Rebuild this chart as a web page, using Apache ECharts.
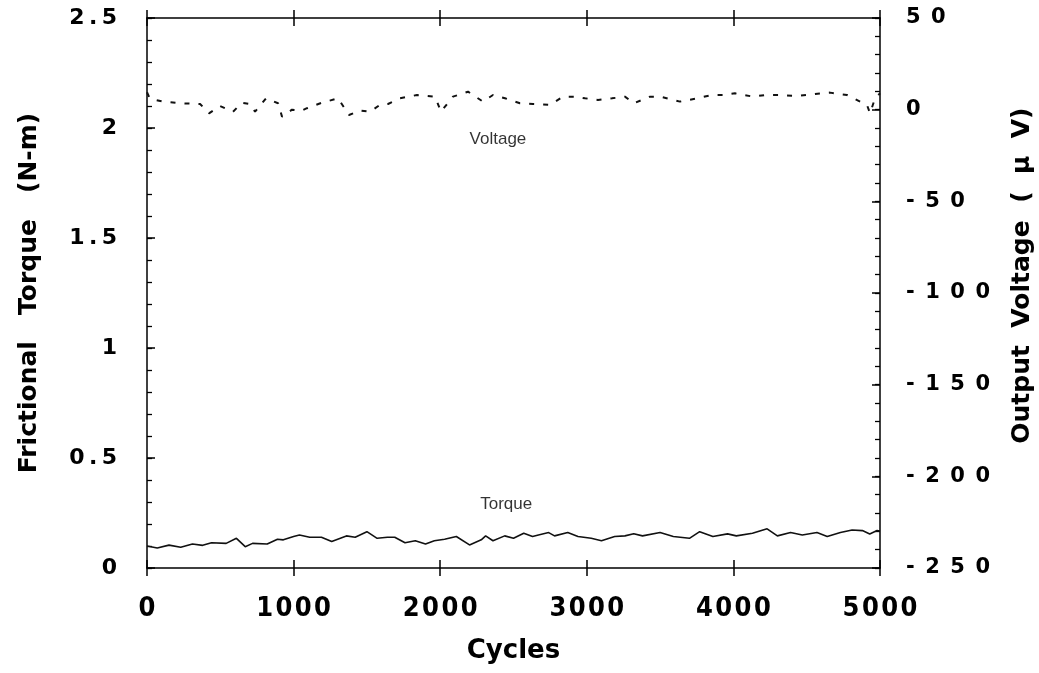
<!DOCTYPE html>
<html>
<head>
<meta charset="utf-8">
<script src="https://cdn.jsdelivr.net/npm/echarts@6/dist/echarts.min.js"></script>
<style>
html,body{margin:0;padding:0;background:#fff;}
#chart{width:1039px;height:673px;}
</style>
</head>
<body>
<div id="chart"></div>
<script>
// ---- data ----
var torqueCycles = [0,70,150,230,310,380,440,540,610,670,720,820,890,930,1000,1040,1110,1190,1260,1360,1420,1500,1570,1640,1690,1760,1830,1900,1960,2030,2110,2200,2280,2310,2360,2440,2500,2570,2630,2670,2740,2780,2870,2940,3030,3100,3190,3260,3320,3380,3500,3590,3700,3770,3860,3960,4020,4130,4230,4300,4390,4470,4570,4640,4730,4810,4880,4930,4980,5000];
var torqueValues = [0.100,0.091,0.104,0.094,0.109,0.103,0.115,0.112,0.135,0.097,0.112,0.109,0.131,0.128,0.143,0.150,0.140,0.140,0.120,0.146,0.140,0.165,0.135,0.140,0.140,0.115,0.124,0.109,0.124,0.131,0.143,0.105,0.128,0.146,0.124,0.146,0.135,0.158,0.143,0.150,0.161,0.146,0.161,0.143,0.135,0.124,0.143,0.146,0.156,0.146,0.161,0.143,0.135,0.165,0.143,0.155,0.146,0.158,0.178,0.146,0.161,0.150,0.161,0.143,0.161,0.173,0.170,0.155,0.170,0.168];
var voltCycles = [0,20,109,225,362,423,498,587,648,703,737,812,894,921,989,1057,1091,1194,1303,1378,1453,1521,1589,1644,1726,1842,1965,2005,2087,2190,2292,2360,2442,2544,2633,2749,2838,2920,2988,3076,3172,3260,3322,3431,3499,3636,3752,3854,3929,4011,4134,4216,4318,4434,4557,4659,4775,4864,4911,4932,4966,5000];
var voltValues = [9.5,6,4.4,3.5,3.1,-2,2,-1.1,3.8,3.1,-1.1,6.2,3.5,-3.8,0,-0.5,0.8,3.8,6.2,-2.9,-0.5,-1.1,2.6,3.1,6.2,8,7.1,-1.1,7.1,9.8,4.4,8,6.2,3.5,3.1,2.6,7.1,7.1,6.2,5.3,6.2,7.1,3.5,7.1,7.1,4.4,6.2,8,8,8.9,7.1,8,8,7.5,8.6,9.3,8,4.4,2.6,-2,6.2,8.9];
var labelNames = ['Voltage', 'Torque'];
var labelCycles = [2394, 2450];
var labelTorque = [1.95, 0.29];

var torqueData = torqueCycles.map(function(c,i){return [c, torqueValues[i]];});
var voltData = voltCycles.map(function(c,i){return [c, voltValues[i]];});
var labelData = labelNames.map(function(n,i){return {name:n, value:[labelCycles[i], labelTorque[i]]};});

var BOLD = 'DejaVu Sans, Liberation Sans, sans-serif';
var COND = 'DejaVu Sans Condensed, DejaVu Sans, sans-serif';
function spaced(s, sep){ return String(s).split('').join(sep); }

var grid0 = {left:147, right:159, top:18, bottom:105, containLabel:false, outerBoundsMode:'none'};
var grid1 = {left:147, right:159, top:18, bottom:105, containLabel:false, outerBoundsMode:'none'};
var chart = echarts.init(document.getElementById('chart'), null, {renderer:'canvas'});
var ax = {color:'#000', width:1.5};
var noLine = {show:false, onZero:false};

chart.setOption({
  backgroundColor:'#fff',
  animation:false,
  grid:[grid0, grid1],
  xAxis:[
    {gridIndex:0, type:'value', position:'bottom', min:0, max:5000, interval:1000,
     axisLine:{show:true, onZero:false, lineStyle:ax},
     axisTick:{show:true, inside:false, length:8, lineStyle:ax},
     splitLine:{show:false},
     axisLabel:{show:true, margin:27, color:'#000', fontFamily:COND, fontWeight:'bold', fontSize:27,
       formatter:function(v){return spaced(v,'\u200A');}},
     name:'Cycles', nameLocation:'middle', nameGap:70,
     nameTextStyle:{color:'#000', fontFamily:BOLD, fontWeight:'bold', fontSize:26}},
    {gridIndex:0, type:'value', position:'top', min:0, max:5000, interval:1000,
     axisLine:{show:true, onZero:false, lineStyle:ax},
     axisTick:{show:true, inside:false, length:8, lineStyle:ax},
     splitLine:{show:false}, axisLabel:{show:false}},
    {gridIndex:1, type:'value', position:'bottom', min:0, max:5000, interval:1000,
     axisLine:noLine,
     axisTick:{show:true, inside:true, length:8, lineStyle:ax},
     splitLine:{show:false}, axisLabel:{show:false}},
    {gridIndex:1, type:'value', position:'top', min:0, max:5000, interval:1000,
     axisLine:noLine,
     axisTick:{show:true, inside:true, length:8, lineStyle:ax},
     splitLine:{show:false}, axisLabel:{show:false}}
  ],
  yAxis:[
    {gridIndex:0, type:'value', position:'left', min:0, max:2.5, interval:0.5,
     axisLine:{show:true, onZero:false, lineStyle:ax},
     axisTick:{show:true, inside:true, length:8, lineStyle:ax},
     splitLine:{show:false},
     axisLabel:{show:true, margin:30, color:'#000', fontFamily:BOLD, fontWeight:'bold', fontSize:22,
       formatter:function(v){ var s = (v===0)?'0':String(Math.round(v*10)/10); return spaced(s,'\u2009');}},
     name:'Frictional   Torque   (N-m)', nameLocation:'middle', nameGap:105, nameRotate:90,
     nameTextStyle:{color:'#000', fontFamily:BOLD, fontWeight:'bold', fontSize:25}},
    {gridIndex:0, type:'value', position:'right', min:-250, max:50, interval:50,
     axisLine:{show:true, onZero:false, lineStyle:ax},
     axisTick:{show:true, inside:true, length:8, lineStyle:ax},
     splitLine:{show:false},
     axisLabel:{show:true, margin:26, color:'#000', fontFamily:BOLD, fontWeight:'bold', fontSize:21,
       formatter:function(v){return spaced(v,'\u2002');}},
     name:'    Output  Voltage  (  \u03BC  V)', nameLocation:'middle', nameGap:130, nameRotate:90,
     nameTextStyle:{color:'#000', fontFamily:BOLD, fontWeight:'bold', fontSize:25}},
    {gridIndex:1, type:'value', position:'left', min:0, max:2.5, interval:0.1,
     axisLine:noLine,
     axisTick:{show:true, inside:true, length:5, lineStyle:{color:'#000', width:1.3}},
     splitLine:{show:false}, axisLabel:{show:false}},
    {gridIndex:1, type:'value', position:'right', min:-250, max:50, interval:10,
     axisLine:noLine,
     axisTick:{show:true, inside:true, length:5, lineStyle:{color:'#000', width:1.3}},
     splitLine:{show:false}, axisLabel:{show:false}}
  ],
  series:[
    {type:'line', xAxisIndex:0, yAxisIndex:0, data:torqueData, symbol:'none', smooth:false,
     lineStyle:{color:'#111', width:1.6}},
    {type:'line', xAxisIndex:0, yAxisIndex:1, data:voltData, symbol:'none', smooth:false,
     lineStyle:{color:'#111', width:2, type:[5,9]}},
    {type:'scatter', xAxisIndex:0, yAxisIndex:0, data:labelData, symbolSize:0,
     label:{show:true, position:'inside', formatter:'{b}', color:'#000', fontFamily:'Liberation Sans, Arial, sans-serif', fontSize:17}}
  ]
});
</script>
</body>
</html>
